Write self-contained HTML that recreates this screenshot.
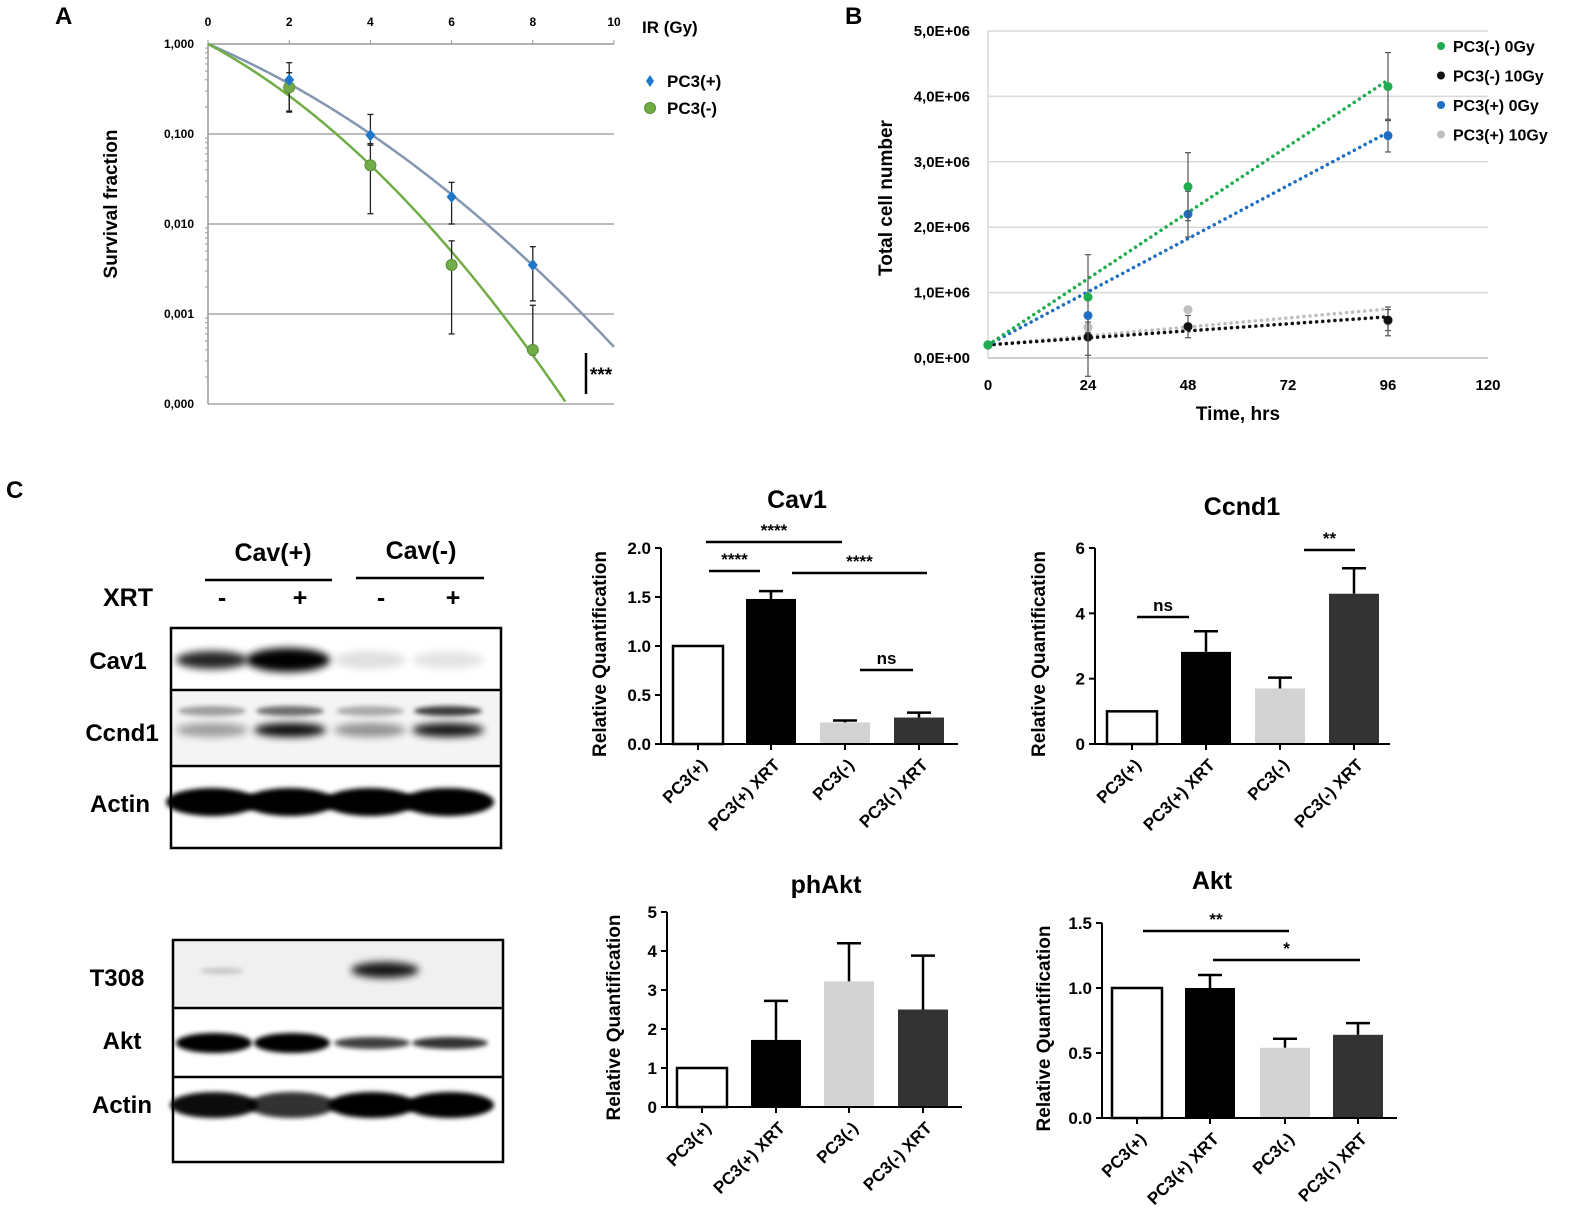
<!DOCTYPE html>
<html><head><meta charset="utf-8">
<style>
html,body{margin:0;padding:0;background:#fff;}
svg{display:block;font-family:"Liberation Sans",Arial,sans-serif;}
</style></head>
<body>
<svg id="fig" width="1575" height="1216" viewBox="0 0 1575 1216" xmlns="http://www.w3.org/2000/svg">
<defs>
<filter id="blur4" x="-30%" y="-100%" width="160%" height="300%"><feGaussianBlur stdDeviation="4"/></filter>
<filter id="blur2" x="-30%" y="-100%" width="160%" height="300%"><feGaussianBlur stdDeviation="2.5"/></filter>
</defs>
<g id="root"></g>
</svg>
<script>
// ---------- Panel A data ----------
const aDoses = [2, 4, 6, 8];
const aPlusVals = [0.40, 0.097, 0.020, 0.0035];
const aPlusHi = [0.62, 0.165, 0.029, 0.0056];
const aPlusLo = [0.18, 0.075, 0.010, 0.0014];
const aMinusVals = [0.33, 0.045, 0.0035, 0.0004];
const aMinusHi = [0.48, 0.078, 0.0065, 0.00125];
const aMinusLo = [0.175, 0.013, 0.0006, 0.00035];
const aPlusFit = [0.442, 0.0333];   // alpha, beta (LQ model)
const aMinusFit = [0.554, 0.0552];
const aXTicks = [0, 2, 4, 6, 8, 10];
const aYTicks = ["1,000", "0,100", "0,010", "0,001", "0,000"];

// ---------- Panel B data ----------
const bTimes = [0, 24, 48, 96];
const bXTicks = [0, 24, 48, 72, 96, 120];
const bYTicks = ["0,0E+00","1,0E+06","2,0E+06","3,0E+06","4,0E+06","5,0E+06"];
const bNames = ["PC3(-) 0Gy","PC3(-) 10Gy","PC3(+) 0Gy","PC3(+) 10Gy"];
const bMinus0 = [0.2, 0.93, 2.62, 4.15];
const bMinus0Err = [0, 0, 0.52, 0.52];
const bMinus10 = [0.2, 0.32, 0.48, 0.58];
const bMinus10Err = [0, 0.28, 0.17, 0.16];
const bPlus0 = [0.2, 0.65, 2.2, 3.4];
const bPlus0Err = [0, 0.93, 0.35, 0.25];
const bPlus10 = [0.2, 0.47, 0.74, 0.56];
const bPlus10Err = [0, 0.08, 0.04, 0.22];
const bTrendEnd = [4.25, 0.63, 3.45, 0.75];

// ---------- Bar charts ----------
const barCats = ["PC3(+)","PC3(+) XRT","PC3(-)","PC3(-) XRT"];
const cav1Vals = [1.0, 1.48, 0.22, 0.27];
const cav1Err = [0, 0.08, 0.02, 0.05];
const cav1Ticks = ["0.0","0.5","1.0","1.5","2.0"];
const ccnd1Vals = [1.0, 2.82, 1.7, 4.6];
const ccnd1Err = [0, 0.63, 0.33, 0.78];
const ccnd1Ticks = ["0","2","4","6"];
const phaktVals = [1.0, 1.72, 3.22, 2.5];
const phaktErr = [0, 1.0, 0.98, 1.38];
const phaktTicks = ["0","1","2","3","4","5"];
const aktVals = [1.0, 1.0, 0.54, 0.64];
const aktErr = [0, 0.1, 0.07, 0.09];
const aktTicks = ["0.0","0.5","1.0","1.5"];

const NS = "http://www.w3.org/2000/svg";
const root = document.getElementById("root");
function el(tag, attrs, parent, text){
  const e = document.createElementNS(NS, tag);
  for (const k in attrs) e.setAttribute(k, attrs[k]);
  if (text !== undefined) e.textContent = text;
  (parent || root).appendChild(e);
  return e;
}
function grp(name, parent){
  const g = el("g", {}, parent);
  
  
  return g;
}

// ================= Panel A =================
(function(){
  const g = grp("panel-a");
  const x0 = 208, x1 = 614, yTop = 44, dec = 90;
  const xs = d => x0 + (x1 - x0) * d / 10;
  const ys = v => yTop - Math.log10(v) * dec;
  const t = el("text", {x:55, y:24, "font-size":24, "font-weight":"bold"}, g, "A");
   
  // gridlines
  aYTicks.forEach((lab, i) => {
    const y = yTop + i * dec;
    const l = el("line", {x1:x0, x2:x1, y1:y, y2:y, stroke: i===0 ? "#999" : "#a6a6a6", "stroke-width":1.5}, g);
     
    const tx = el("text", {x:x0-14, y:y+4, "font-size":12, "font-weight":"bold", "text-anchor":"end"}, g, lab);
     
    // minor ticks
    if (i < aYTicks.length - 1) for (let m = 2; m <= 9; m++){
      const yy = y + dec * (1 - Math.log10(m));
      el("line", {x1:x0-3, x2:x0, y1:yy, y2:yy, stroke:"#999", "stroke-width":1}, g);
    }
  });
  el("line", {x1:x0, x2:x0, y1:yTop, y2:yTop+4*dec, stroke:"#999", "stroke-width":1.5}, g);
  aXTicks.forEach(d => {
    const tx = el("text", {x:xs(d), y:26, "font-size":12, "font-weight":"bold", "text-anchor":"middle"}, g, String(d));
     
    el("line", {x1:xs(d), x2:xs(d), y1:yTop-4, y2:yTop, stroke:"#999"}, g);
  });
  const xt = el("text", {x:642, y:33, "font-size":17, "font-weight":"bold"}, g, "IR (Gy)");
   
  const yt = el("text", {x:0, y:0, "font-size":19, "font-weight":"bold", "text-anchor":"middle", transform:"translate(117,204) rotate(-90)"}, g, "Survival fraction");
   
  function curve(fit, color, name){
    let d = "";
    for (let k = 0; k <= 200; k++){
      const D = 10 * k / 200;
      const v = Math.exp(-fit[0]*D - fit[1]*D*D);
      if (v < 1e-4) break;
      d += (k ? "L" : "M") + xs(D).toFixed(1) + "," + ys(v).toFixed(1);
    }
    // extend to bottom
    const p = el("path", {d:d, fill:"none", stroke:color, "stroke-width":2.5}, g);
     
  }
  curve(aPlusFit, "#8496b0", "fit-curve-pc3-plus");
  curve(aMinusFit, "#70ad47", "fit-curve-pc3-minus");
  function errs(vals, hi, lo){
    vals.forEach((v, i) => {
      const x = xs(aDoses[i]);
      el("line", {x1:x, x2:x, y1:ys(hi[i]), y2:ys(lo[i]), stroke:"#222", "stroke-width":1.3}, g);
      el("line", {x1:x-3, x2:x+3, y1:ys(hi[i]), y2:ys(hi[i]), stroke:"#222", "stroke-width":1.3}, g);
      el("line", {x1:x-3, x2:x+3, y1:ys(lo[i]), y2:ys(lo[i]), stroke:"#222", "stroke-width":1.3}, g);
    });
  }
  errs(aPlusVals, aPlusHi, aPlusLo);
  errs(aMinusVals, aMinusHi, aMinusLo);
  aMinusVals.forEach((v, i) => {
    const c = el("circle", {cx:xs(aDoses[i]), cy:ys(v), r:5.5, fill:"#70ad47", stroke:"#5a8c3a", "stroke-width":1}, g);
     
  });
  aPlusVals.forEach((v, i) => {
    const x = xs(aDoses[i]), y = ys(v);
    const p = el("polygon", {points:`${x},${y-6} ${x+5},${y} ${x},${y+6} ${x-5},${y}`, fill:"#1f77c8"}, g);
     
  });
  // legend
  const l1 = grp("legend-entry-pc3-plus", g);
  el("polygon", {points:"650,75 654,81 650,87 646,81", fill:"#1f77c8"}, l1);
  el("text", {x:667, y:87, "font-size":17, "font-weight":"bold"}, l1, "PC3(+)");
  const l2 = grp("legend-entry-pc3-minus", g);
  el("circle", {cx:650, cy:108, r:5.5, fill:"#70ad47", stroke:"#5a8c3a"}, l2);
  el("text", {x:667, y:114, "font-size":17, "font-weight":"bold"}, l2, "PC3(-)");
  el("line", {x1:586, x2:586, y1:353, y2:394, stroke:"#000", "stroke-width":2.5}, g);
  const s = el("text", {x:590, y:381, "font-size":19, "font-weight":"bold"}, g, "***");
   
})();

// ================= Panel B =================
(function(){
  const g = grp("panel-b");
  const x0 = 988, x1 = 1488, y0 = 358, yT = 31;
  const xs = t => x0 + (x1 - x0) * t / 120;
  const ys = v => y0 - (y0 - yT) * v / 5;
  const t = el("text", {x:845, y:24, "font-size":24, "font-weight":"bold"}, g, "B");
   
  bYTicks.forEach((lab, i) => {
    const y = ys(i);
    const l = el("line", {x1:x0, x2:x1, y1:y, y2:y, stroke: i===0 ? "#bfbfbf" : "#d9d9d9", "stroke-width":1.5}, g);
     
    const tx = el("text", {x:970, y:y+5, "font-size":15, "font-weight":"bold", "text-anchor":"end"}, g, lab);
     
  });
  el("line", {x1:x0, x2:x0, y1:yT, y2:y0, stroke:"#d9d9d9", "stroke-width":1.5}, g);
  bXTicks.forEach(v => {
    const tx = el("text", {x:xs(v), y:390, "font-size":15, "font-weight":"bold", "text-anchor":"middle"}, g, String(v));
     
  });
  const xt = el("text", {x:1238, y:420, "font-size":19, "font-weight":"bold", "text-anchor":"middle"}, g, "Time, hrs");
   
  const yt = el("text", {x:0, y:0, "font-size":19, "font-weight":"bold", "text-anchor":"middle", transform:"translate(892,198) rotate(-90)"}, g, "Total cell number");
   
  const series = [bMinus0, bMinus10, bPlus0, bPlus10];
  const errsArr = [bMinus0Err, bMinus10Err, bPlus0Err, bPlus10Err];
  const colors = ["#1fad4f", "#111111", "#1f6fc0", "#bfbfbf"];
  const drawOrder = [3, 1, 2, 0];
  drawOrder.forEach(si => {
    const tl = el("line", {x1:xs(0), y1:ys(series[si][0]), x2:xs(96), y2:ys(bTrendEnd[si]), stroke:colors[si], "stroke-width":3.5, "stroke-dasharray":"0.1 6", "stroke-linecap":"round"}, g);
     
  });
  drawOrder.forEach(si => {
    series[si].forEach((v, i) => {
      const x = xs(bTimes[i]), e = errsArr[si][i];
      if (e > 0){
        el("line", {x1:x, x2:x, y1:ys(v+e), y2:ys(v-e), stroke:"#555", "stroke-width":1.2}, g);
        el("line", {x1:x-3, x2:x+3, y1:ys(v+e), y2:ys(v+e), stroke:"#555", "stroke-width":1.2}, g);
        el("line", {x1:x-3, x2:x+3, y1:ys(v-e), y2:ys(v-e), stroke:"#555", "stroke-width":1.2}, g);
      }
      const c = el("circle", {cx:x, cy:ys(v), r:4.5, fill:colors[si]}, g);
       
    });
  });
  bNames.forEach((n, i) => {
    const le = grp("legend-entry", g);
    el("circle", {cx:1441, cy:46 + i*29.5, r:4, fill:colors[i]}, le);
    el("text", {x:1453, y:52 + i*29.5, "font-size":16, "font-weight":"bold"}, le, n);
  });
})();

// ================= Panel C blots =================
(function(){
  const g = grp("panel-c-blots");
  const t = el("text", {x:6, y:498, "font-size":24, "font-weight":"bold"}, g, "C");
   
  const h1 = el("text", {x:273, y:561, "font-size":25, "font-weight":"bold", "text-anchor":"middle"}, g, "Cav(+)");
   
  const h2 = el("text", {x:421, y:559, "font-size":25, "font-weight":"bold", "text-anchor":"middle"}, g, "Cav(-)");
   
  el("line", {x1:205, x2:332, y1:580, y2:580, stroke:"#000", "stroke-width":2.5}, g);
  el("line", {x1:356, x2:484, y1:578, y2:578, stroke:"#000", "stroke-width":2.5}, g);
  el("text", {x:128, y:606, "font-size":25, "font-weight":"bold", "text-anchor":"middle"}, g, "XRT");
  ["-","+","-","+"].forEach((s, i) => {
    el("text", {x:[222,300,381,453][i], y:606, "font-size":25, "font-weight":"bold", "text-anchor":"middle"}, g, s);
  });
  const lanes = [212, 290, 370, 448];
  function band(x, y, w, h, op, f){
    el("ellipse", {cx:x, cy:y, rx:w, ry:h, fill:"#000", opacity:op, filter:"url(#" + (f||"blur4") + ")"}, g);
  }
  function blotLabel(txt, x, y){
    const e = el("text", {x:x, y:y, "font-size":24, "font-weight":"bold", "text-anchor":"middle"}, g, txt);
     
  }
  // Blot 1
  el("rect", {x:172, y:692, width:328, height:72, fill:"#f4f4f4"}, g);
  [0.85,1,0.12,0.1].forEach((o,i)=> band(lanes[i]+(i==1?-2:0), 660, i==1?42:36, i==1?12:9, o));
  [0.35,0.55,0.3,0.75].forEach((o,i)=> band(lanes[i], 711, 34, 5, o, "blur2"));
  [0.35,0.95,0.4,0.9].forEach((o,i)=> band(lanes[i], 730, 36, 7, o));
  [1,1,1,1].forEach((o,i)=> band(lanes[i], 802, 46, 14, o, "blur2"));
  el("rect", {x:171, y:628, width:330, height:220, fill:"none", stroke:"#000", "stroke-width":2.5}, g);
  el("line", {x1:171, x2:501, y1:690, y2:690, stroke:"#000", "stroke-width":2.5}, g);
  el("line", {x1:171, x2:501, y1:766, y2:766, stroke:"#000", "stroke-width":2.5}, g);
  blotLabel("Cav1", 118, 669); blotLabel("Ccnd1", 122, 741); blotLabel("Actin", 120, 812);
  // Blot 2
  el("rect", {x:174, y:942, width:328, height:64, fill:"#f0f0f0"}, g);
  band(222, 971, 22, 3, 0.18, "blur2");
  band(385, 970, 34, 8, 0.9);
  [1,1,0.75,0.8].forEach((o,i)=> band(lanes[i]+2, 1043, 38, i<2?10:6, o, "blur2"));
  [0.95,0.8,1,1].forEach((o,i)=> band(lanes[i]+2, 1105, 44, 13, o, "blur2"));
  el("rect", {x:173, y:940, width:330, height:222, fill:"none", stroke:"#000", "stroke-width":2.5}, g);
  el("line", {x1:173, x2:503, y1:1008, y2:1008, stroke:"#000", "stroke-width":2.5}, g);
  el("line", {x1:173, x2:503, y1:1077, y2:1077, stroke:"#000", "stroke-width":2.5}, g);
  blotLabel("T308", 117, 986); blotLabel("Akt", 122, 1049); blotLabel("Actin", 122, 1113);
})();

// ================= Bar charts =================
function barChart(name, title, vals, errs, ticks, maxV, L, sigs){
  const g = grp(name);
  const ys = v => L.y0 - (L.y0 - L.yTop) * v / maxV;
  const fills = ["#fff", "#000", "#d3d3d3", "#333"];
  const tt = el("text", {x:L.titleX, y:L.titleY, "font-size":25, "font-weight":"bold", "text-anchor":"middle"}, g, title);
   
  const yt = el("text", {x:0, y:0, "font-size":19, "font-weight":"bold", "text-anchor":"middle", transform:`translate(${L.yTitleX},${(L.y0+L.yTop)/2 + 8}) rotate(-90)`}, g, "Relative Quantification");
   
  vals.forEach((v, i) => {
    const cx = L.centers[i], w = 50;
    if (errs[i] > 0){
      el("line", {x1:cx, x2:cx, y1:ys(v+errs[i]), y2:ys(v), stroke:"#000", "stroke-width":2.5}, g);
      el("line", {x1:cx-12, x2:cx+12, y1:ys(v+errs[i]), y2:ys(v+errs[i]), stroke:"#000", "stroke-width":2.5}, g);
    }
    const r = el("rect", {x:cx-w/2, y:ys(v), width:w, height:ys(0)-ys(v), fill:fills[i], stroke: i===0 ? "#000" : "none", "stroke-width":2.5}, g);
    
    
    el("line", {x1:cx, x2:cx, y1:L.y0, y2:L.y0+6, stroke:"#000", "stroke-width":2}, g);
    const lab = el("text", {x:0, y:0, "font-size":17, "font-weight":"bold", "text-anchor":"end", transform:`translate(${cx+10},${L.y0+22}) rotate(-45)`}, g, barCats[i]);
     
  });
  ticks.forEach((lab, i) => {
    const v = maxV * i / (ticks.length - 1), y = ys(v);
    el("line", {x1:L.yAxisX-6, x2:L.yAxisX, y1:y, y2:y, stroke:"#000", "stroke-width":2}, g);
    const tx = el("text", {x:L.yAxisX-10, y:y+6, "font-size":17, "font-weight":"bold", "text-anchor":"end"}, g, lab);
     
  });
  el("line", {x1:L.yAxisX, x2:L.yAxisX, y1:L.yTop, y2:L.y0, stroke:"#000", "stroke-width":2}, g);
  el("line", {x1:L.yAxisX, x2:L.xEnd, y1:L.y0, y2:L.y0, stroke:"#000", "stroke-width":2}, g);
  sigs.forEach(s => {
    const sg = grp("significance-bar", g);
    el("line", {x1:s[0], x2:s[1], y1:s[2], y2:s[2], stroke:"#000", "stroke-width":2.5}, sg);
    el("text", {x:(s[0]+s[1])/2, y:s[2]-6, "font-size":17, "font-weight":"bold", "text-anchor":"middle"}, sg, s[3]);
  });
}
barChart("chart-cav1", "Cav1", cav1Vals, cav1Err, cav1Ticks, 2.0,
  {y0:744, yTop:548, yAxisX:661, xEnd:958, centers:[698,771,845,919], titleX:797, titleY:508, yTitleX:606},
  [[706,842,542,"****"],[709,760,571,"****"],[792,927,573,"****"],[860,913,670,"ns"]]);
barChart("chart-ccnd1", "Ccnd1", ccnd1Vals, ccnd1Err, ccnd1Ticks, 6,
  {y0:744, yTop:548, yAxisX:1095, xEnd:1390, centers:[1132,1206,1280,1354], titleX:1242, titleY:515, yTitleX:1045},
  [[1137,1189,617,"ns"],[1304,1355,550,"**"]]);
barChart("chart-phakt", "phAkt", phaktVals, phaktErr, phaktTicks, 5,
  {y0:1107, yTop:912, yAxisX:667, xEnd:962, centers:[702,776,849,923], titleX:826, titleY:893, yTitleX:620},
  []);
barChart("chart-akt", "Akt", aktVals, aktErr, aktTicks, 1.5,
  {y0:1118, yTop:923, yAxisX:1102, xEnd:1397, centers:[1137,1210,1285,1358], titleX:1212, titleY:889, yTitleX:1050},
  [[1143,1289,931,"**"],[1213,1360,960,"*"]]);
</script>
</body></html>
